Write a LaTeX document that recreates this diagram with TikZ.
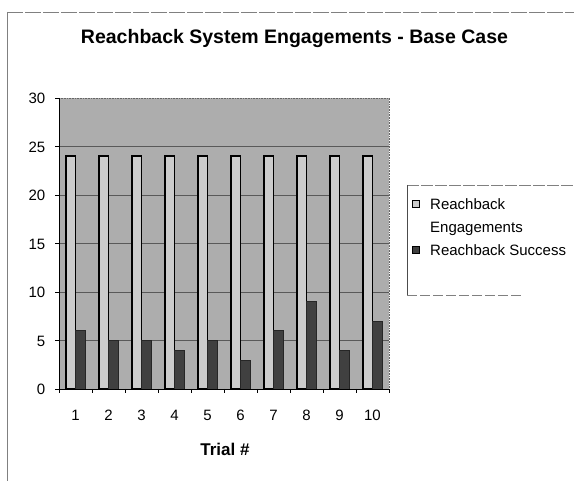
\documentclass[tikz,border=0pt]{standalone}
\usepackage{fontspec}
\setmainfont{Liberation Sans}
\begin{document}
\begin{tikzpicture}[x=1pt,y=-1pt,
  lbl/.style={font=\fontsize{15}{18}\selectfont, inner sep=0pt},
  gridline/.style={draw=black!65, line width=0.6pt},
  engbar/.style={fill=black!20, draw=black, line width=1.5pt},
  sucbar/.style={fill=black!75, draw=black!85, line width=0.6pt},
  frameline/.style={draw=black!50, line width=0.6pt}]
\useasboundingbox (0,0) rectangle (574,481);
\fill[white] (0,0) rectangle (574,481);
% outer chart frame (visible parts)
\draw[frameline, dash pattern=on 16pt off 2pt] (7,12) -- (574,12);
\draw[frameline] (7,12) -- (7,481);
% title
\node[font=\fontsize{19.5}{23}\selectfont\bfseries, inner sep=0pt, anchor=base] (title) at (294.5,44) {Reachback System Engagements - Base Case};
% plot area
\fill[black!32] (59,98) rectangle (389,389);
\foreach \v in {5,10,15,20,25} \draw[gridline] (59,{389-9.7*\v}) -- (389,{389-9.7*\v});
\draw[black!60, densely dotted, line width=0.6pt] (59,98) -- (389,98) -- (389,389);
% bars
\foreach \i/\s in {1/6,2/5,3/5,4/4,5/5,6/3,7/6,8/9,9/4,10/7} {
  \pgfmathsetmacro\c{59+33*(\i-0.5)}
  \draw[engbar] ({\c-9.5},389) rectangle (\c,{389-9.7*24});
  \draw[sucbar] (\c,389) rectangle ({\c+9.5},{389-9.7*\s});
  \node[lbl] (xl\i) at (\c,415) {\i};
}
% axes
\draw[black, line width=0.8pt] (59,98) -- (59,389) -- (389,389);
\foreach \v in {0,5,10,15,20,25,30} {
  \draw[black, line width=0.6pt] (55,{389-9.7*\v}) -- (59,{389-9.7*\v});
  \node[lbl, anchor=east] (yl\v) at (45.5,{389.5-9.7*\v}) {\v};
}
\foreach \k in {0,...,10} \draw[black, line width=0.6pt] ({59+33*\k},389) -- ({59+33*\k},393);
% axis title
\node[font=\fontsize{17}{20}\selectfont\bfseries, inner sep=0pt] (xtitle) at (225,449) {Trial \#};
% legend
\draw[frameline, dash pattern=on 12pt off 2pt] (407,185) -- (574,185);
\draw[black!70, line width=0.6pt] (407,185) -- (407,295);
\draw[frameline, dash pattern=on 10pt off 3pt] (407,295) -- (522,295);
\draw[fill=black!20, draw=black, line width=0.8pt] (412.5,200.5) rectangle (419.5,207.5);
\draw[fill=black!75, draw=black, line width=0.8pt] (412.5,246.5) rectangle (419.5,253.5);
\node[lbl, anchor=base west] (leg1) at (430,210) {Reachback};
\node[lbl, anchor=base west] (leg1b) at (430,233) {Engagements};
\node[lbl, anchor=base west] (leg2) at (430,256) {Reachback Success};
\end{tikzpicture}
\end{document}
